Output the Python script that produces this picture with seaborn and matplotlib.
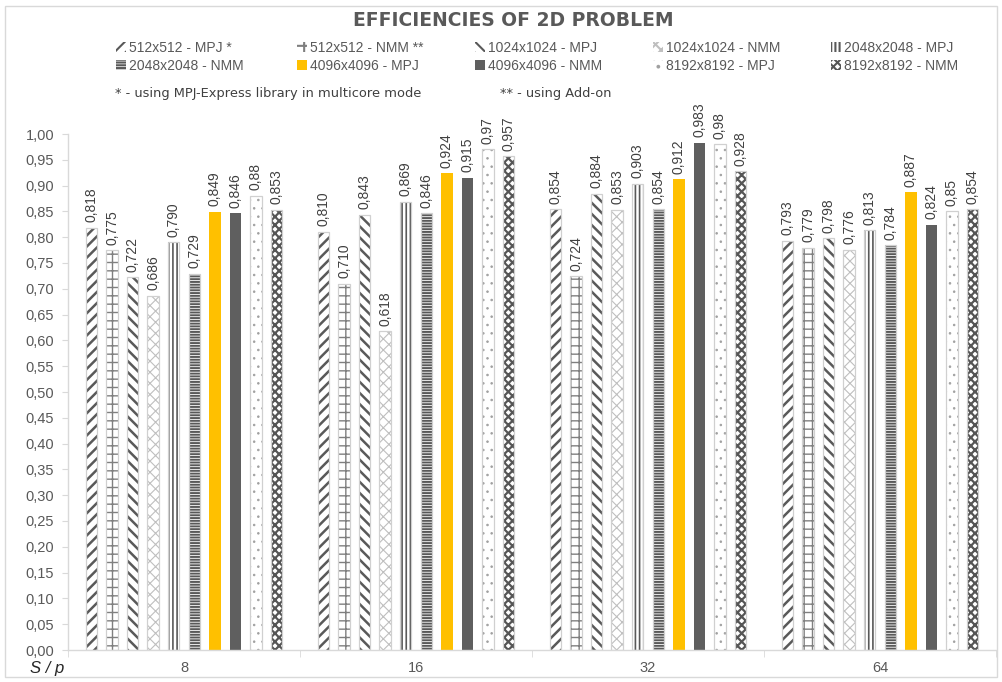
import matplotlib
matplotlib.use("Agg")
import matplotlib.pyplot as plt
from matplotlib.patches import Rectangle
from matplotlib.ticker import FixedLocator, FuncFormatter
import numpy as np
import pandas as pd
import seaborn as sns

# ---- data -------------------------------------------------------------
processes = ["8", "16", "32", "64"]

series_names = [
    "512x512 - MPJ *", "512x512 - NMM **",
    "1024x1024 - MPJ", "1024x1024 - NMM",
    "2048x2048 - MPJ", "2048x2048 - NMM",
    "4096x4096 - MPJ", "4096x4096 - NMM",
    "8192x8192 - MPJ", "8192x8192 - NMM",
]

mpj_512 = [0.818, 0.810, 0.854, 0.793]
nmm_512 = [0.775, 0.710, 0.724, 0.779]
mpj_1024 = [0.722, 0.843, 0.884, 0.798]
nmm_1024 = [0.686, 0.618, 0.853, 0.776]
mpj_2048 = [0.790, 0.869, 0.903, 0.813]
nmm_2048 = [0.729, 0.846, 0.854, 0.784]
mpj_4096 = [0.849, 0.924, 0.912, 0.887]
nmm_4096 = [0.846, 0.915, 0.983, 0.824]
mpj_8192 = [0.88, 0.97, 0.98, 0.85]
nmm_8192 = [0.853, 0.957, 0.928, 0.854]

series_values = [mpj_512, nmm_512, mpj_1024, nmm_1024, mpj_2048,
                 nmm_2048, mpj_4096, nmm_4096, mpj_8192, nmm_8192]
label_decimals = [3, 3, 3, 3, 3, 3, 3, 3, 2, 3]

y_ticks = [round(v, 2) for v in np.arange(0, 1.0001, 0.05)]

# ---- styling per series: face colour, hatch, hatch colour -----------
face_colors = ["white", "white", "white", "white", "white",
               "white", "#FFC000", "#5F5F5F", "white", "white"]
hatches = ["///", "++", "\\\\\\", "xxx", "||||",
           "------", None, None, "..", "xxxx"]
hatch_colors = ["#595959", "#7f7f7f", "#595959", "#bfbfbf", "#595959",
                "#595959", "#FFC000", "#5F5F5F", "#a0a0a0", "#555555"]
hatch_widths = [1.8, 1.0, 1.8, 0.8, 1.2, 1.4, 1.0, 1.0, 0.6, 1.6]

df = pd.DataFrame({
    "p": np.repeat([processes], len(series_names), axis=0).ravel(),
    "series": np.repeat(series_names, len(processes)),
    "eff": np.concatenate(series_values),
})

sns.set_style("white")
plt.rcParams["font.family"] = ["Liberation Sans", "DejaVu Sans"]
plt.rcParams["hatch.linewidth"] = 1.5

W, H = 1002, 682
fig = plt.figure(figsize=(W / 100, H / 100), dpi=100)
ax = fig.add_axes([68 / W, 1 - 650 / H, (996 - 68) / W, (650 - 134) / H])

sns.barplot(data=df, x="p", y="eff", hue="series", order=processes,
            hue_order=series_names, palette=face_colors, width=0.884,
            gap=0.44, ax=ax, legend=False, saturation=1, linewidth=0)

text_col = "#595959"
for i, cont in enumerate(ax.containers):
    for patch in cont.patches:
        patch.set_facecolor(face_colors[i])
        patch.set_edgecolor(hatch_colors[i])
        patch.set_linewidth(0)
        if hatches[i]:
            patch.set_hatch(hatches[i])
            if hasattr(patch, "set_hatch_linewidth"):
                patch.set_hatch_linewidth(hatch_widths[i])
            outline = Rectangle(patch.get_xy(), patch.get_width(),
                                patch.get_height(), fill=False,
                                edgecolor="#d0d0d0", linewidth=0.9,
                                zorder=patch.get_zorder() + 0.1)
            ax.add_patch(outline)
    fmt = "{:.%df}" % label_decimals[i]
    labels = [fmt.format(v).replace(".", ",") for v in series_values[i]]
    ax.bar_label(cont, labels=labels, rotation=90, padding=4,
                 fontsize=10, color="#404040")

# ---- axes -----------------------------------------------------------
ax.set_ylim(0, 1.0)
ax.set_xlim(-0.5, len(processes) - 0.5)
ax.yaxis.set_major_locator(FixedLocator(y_ticks))
ax.yaxis.set_major_formatter(FuncFormatter(lambda v, _: f"{v:.2f}".replace(".", ",")))
ax.tick_params(axis="y", length=4, color="#d9d9d9", labelsize=10.5,
               labelcolor=text_col, pad=6, left=True)
ax.tick_params(axis="x", which="major", length=0, labelsize=10.5,
               labelcolor=text_col, pad=8)
ax.set_xticks(np.arange(-0.5, len(processes), 1.0), minor=True)
ax.tick_params(axis="x", which="minor", length=5, color="#d9d9d9", bottom=True)
ax.set_xlabel("")
ax.set_ylabel("")
for side in ["top", "right"]:
    ax.spines[side].set_visible(False)
for side in ["left", "bottom"]:
    ax.spines[side].set_color("#d9d9d9")
    ax.spines[side].set_linewidth(1.0)

# ---- title, legend, notes -------------------------------------------
fig.text(513 / W, 1 - 20 / H, "EFFICIENCIES OF 2D PROBLEM", ha="center",
         va="center", fontsize=13.5, fontweight="bold", color=text_col,
         family="DejaVu Sans")

handles = list(ax.containers)
col_x = [116, 297, 475, 653, 831]
for c, x in enumerate(col_x):
    hs = [handles[c].patches[0], handles[c + 5].patches[0]]
    labs = [series_names[c], series_names[c + 5]]
    leg = fig.legend(hs, labs, loc="upper left",
                     bbox_to_anchor=(x / W, 1 - 41 / H), frameon=False,
                     handlelength=0.7, handleheight=0.7, handletextpad=0.25,
                     labelspacing=0.3, fontsize=10, borderpad=0,
                     borderaxespad=0)
    for t in leg.get_texts():
        t.set_color(text_col)

fig.text(115 / W, 1 - 93 / H, "* - using MPJ-Express library in multicore mode",
         ha="left", va="center", fontsize=9.4, color="#404040",
         family="DejaVu Sans")
fig.text(500 / W, 1 - 93 / H, "** - using Add-on", ha="left", va="center",
         fontsize=9.4, color="#404040", family="DejaVu Sans")

fig.text(30 / W, 1 - 668 / H, "S / p", ha="left", va="center", fontsize=12,
         style="italic", color="#262626")

fig.add_artist(Rectangle((5 / W, 1 - 677 / H), 992 / W, 671 / H,
                         transform=fig.transFigure, fill=False,
                         edgecolor="#d9d9d9", linewidth=1.0))

fig.savefig("out.png", dpi=100)
